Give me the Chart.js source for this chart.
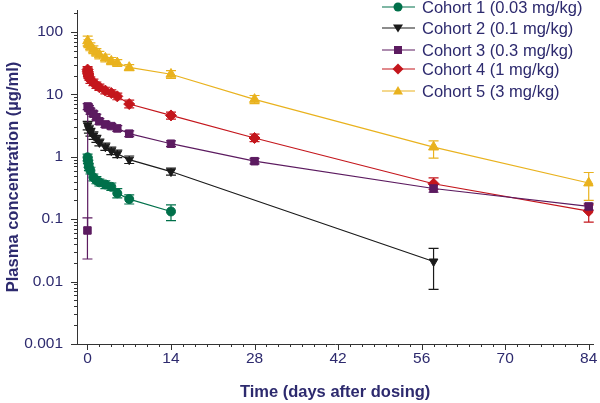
<!DOCTYPE html>
<html>
<head>
<meta charset="utf-8">
<script src="https://cdn.jsdelivr.net/npm/chart.js@4"></script>
<style>
body { margin: 0; background: #fff; }
#wrap { position: relative; width: 600px; height: 403px; }
.row { position: absolute; left: 382px; height: 20px; display: flex; align-items: center;
       font: 16.5px "Liberation Sans", Arial, sans-serif; color: #2d2a6e; white-space: nowrap; }
.row svg { margin-right: 7px; }
</style>
</head>
<body>
<div id="wrap">
  <canvas id="pk" width="600" height="403"></canvas>
  <div id="legend"></div>
</div>
<script>
/* DATA (days after dosing, mean conc µg/ml, error bar low/high) */
const cohortNames = ["Cohort 1 (0.03 mg/kg)", "Cohort 2 (0.1 mg/kg)", "Cohort 3 (0.3 mg/kg)",
                     "Cohort 4 (1 mg/kg)", "Cohort 5 (3 mg/kg)"];

const days1 = [0.02, 0.08, 0.17, 0.25, 0.5, 1, 1.5, 2, 3, 4, 5, 7, 14];
const conc1 = [0.98, 0.88, 0.78, 0.68, 0.60, 0.47, 0.42, 0.39, 0.36, 0.33, 0.26, 0.21, 0.133];
const low1  = [0.86, 0.78, 0.68, 0.60, 0.53, 0.41, 0.37, 0.34, 0.31, 0.29, 0.22, 0.175, 0.095];
const high1 = [1.10, 0.99, 0.88, 0.77, 0.68, 0.53, 0.48, 0.44, 0.41, 0.38, 0.31, 0.245, 0.17];

const days2 = [0.04, 0.25, 0.5, 1, 1.5, 2, 3, 4, 5, 7, 14, 58];
const conc2 = [3.2, 2.8, 2.5, 2.2, 1.95, 1.7, 1.45, 1.25, 1.12, 0.90, 0.58, 0.021];
const low2  = [2.7, 2.4, 2.15, 1.9, 1.7, 1.5, 1.27, 1.08, 0.97, 0.78, 0.51, 0.0075];
const high2 = [3.7, 3.2, 2.85, 2.5, 2.2, 1.92, 1.65, 1.43, 1.28, 1.03, 0.66, 0.034];

const days3 = [0, 0.04, 0.25, 0.5, 1, 1.5, 2, 3, 4, 5, 7, 14, 28, 58, 84];
const conc3 = [0.066, 6.4, 6.0, 5.4, 4.9, 4.3, 3.7, 3.3, 3.1, 2.85, 2.35, 1.62, 0.85, 0.31, 0.16];
const low3  = [0.023, 5.7, 5.4, 4.8, 4.4, 3.9, 3.3, 2.95, 2.8, 2.55, 2.1, 1.45, 0.77, 0.27, 0.14];
const high3 = [0.105, 7.1, 6.6, 6.0, 5.4, 4.8, 4.1, 3.7, 3.4, 3.15, 2.6, 1.8, 0.94, 0.36, 0.18];

const days4 = [0.02, 0.04, 0.08, 0.17, 0.25, 0.5, 1, 1.5, 2, 3, 4, 5, 7, 14, 28, 58, 84];
const conc4 = [25, 23.5, 22, 20.5, 19, 17, 15.5, 14, 13, 11.5, 10.5, 9.3, 7.0, 4.6, 2.0, 0.37, 0.135];
const low4  = [22, 21, 19.5, 18, 17, 15, 13.8, 12.5, 11.6, 10.2, 9.3, 8.2, 6.1, 4.0, 1.75, 0.30, 0.09];
const high4 = [28, 26.5, 25, 23, 21.5, 19, 17.5, 15.8, 14.6, 13, 11.8, 10.5, 8.1, 5.2, 2.3, 0.46, 0.17];

const days5 = [0.04, 0.17, 0.5, 1, 1.5, 2, 3, 4, 5, 7, 14, 28, 58, 84];
const conc5 = [72, 65, 58, 52, 47, 43, 38, 34, 32, 27, 21, 8.3, 1.43, 0.38];
const low5  = [60, 56, 50, 45, 41, 37, 33, 30, 28, 24, 18, 7.1, 0.95, 0.2];
const high5 = [86, 75, 67, 60, 54, 49, 44, 39, 36, 30, 24, 9.6, 1.8, 0.56];

const xTickLabels = [0, 14, 28, 42, 56, 70, 84];
const yTickLabels = ["0.001", "0.01", "0.1", "1", "10", "100"];

/* STYLE */
const colors = ["#00704a", "#1a1a1a", "#5c1b60", "#c4161c", "#e9b21e"];
const shapes = ["circle", "triangle", "rect", "rectRot", "triangle"];
const radii = [4.5, 5, 5.3, 5.5, 5.8];
const rots = [0, 180, 0, 0, 0];
const txt = "#2d2a6e";
const fam = '"Liberation Sans", Arial, sans-serif';

const series = [
    [days1, conc1, low1, high1], [days2, conc2, low2, high2], [days3, conc3, low3, high3],
    [days4, conc4, low4, high4], [days5, conc5, low5, high5]
];

const datasets = series.map(([d, c, lo, hi], i) => ({
    label: cohortNames[i],
    data: d.map((t, j) => ({ x: t, y: c[j] })),
    lo: lo, hi: hi,
    borderColor: colors[i],
    backgroundColor: colors[i],
    borderWidth: 1.2,
    pointStyle: shapes[i],
    pointRadius: radii[i],
    pointRotation: rots[i],
    pointBorderWidth: 1,
    tension: 0
}));

/* error bars drawn in data coordinates */
const errorBars = {
    id: "errorBars",
    beforeDatasetsDraw(chart) {
        const ctx = chart.ctx, y = chart.scales.y;
        chart.data.datasets.forEach((ds, i) => {
            const meta = chart.getDatasetMeta(i);
            ctx.save();
            ctx.strokeStyle = ds.borderColor;
            ctx.lineWidth = 1.2;
            ctx.beginPath();
            meta.data.forEach((pt, j) => {
                const top = y.getPixelForValue(ds.hi[j]);
                const bot = y.getPixelForValue(ds.lo[j]);
                ctx.moveTo(pt.x, top); ctx.lineTo(pt.x, bot);
                ctx.moveTo(pt.x - 5, top); ctx.lineTo(pt.x + 5, top);
                ctx.moveTo(pt.x - 5, bot); ctx.lineTo(pt.x + 5, bot);
            });
            ctx.stroke();
            ctx.restore();
        });
    }
};

/* outward tick marks, long at labelled values */
const axisTicks = {
    id: "axisTicks",
    afterDraw(chart) {
        const { ctx, chartArea, scales: { x, y } } = chart;
        ctx.save();
        ctx.strokeStyle = "#333";
        ctx.lineWidth = 1;
        ctx.beginPath();
        y.ticks.forEach(t => {
            const py = Math.round(y.getPixelForValue(t.value)) + 0.5;
            const lg = Math.log10(t.value);
            const len = Math.abs(lg - Math.round(lg)) < 1e-6 ? 6 : 3;
            ctx.moveTo(chartArea.left, py); ctx.lineTo(chartArea.left - len, py);
        });
        x.ticks.forEach(t => {
            const px = Math.round(x.getPixelForValue(t.value)) + 0.5;
            const len = xTickLabels.includes(t.value) ? 6 : 3;
            ctx.moveTo(px, chartArea.bottom); ctx.lineTo(px, chartArea.bottom + len);
        });
        ctx.stroke();
        ctx.restore();
    }
};

new Chart(document.getElementById("pk"), {
    type: "line",
    data: { datasets },
    options: {
        responsive: false,
        animation: false,
        layout: { padding: { top: 10, right: 3, left: 0, bottom: 0 } },
        plugins: { legend: { display: false }, tooltip: { enabled: false } },
        scales: {
            x: {
                type: "linear",
                min: -1.75,
                max: 84.75,
                afterBuildTicks: s => {
                    const t = [];
                    for (let v = 0; v <= 84; v += 2) t.push({ value: v });
                    s.ticks = t;
                },
                afterFit: s => { s.height = 59; s.paddingLeft = 0; s.paddingRight = 0; },
                grid: { display: false, drawTicks: false },
                border: { display: true, color: "#333", width: 1 },
                ticks: {
                    autoSkip: false, maxRotation: 0, padding: 5, color: txt,
                    font: { family: fam, size: 15.5 },
                    callback: v => xTickLabels.includes(v) ? String(v) : ""
                },
                title: {
                    display: true, text: "Time (days after dosing)", color: txt,
                    font: { family: fam, size: 16.5, weight: "bold" },
                    padding: { top: 0, bottom: 1 }
                }
            },
            y: {
                type: "logarithmic",
                min: 0.001,
                max: 225,
                afterBuildTicks: s => {
                    const t = [];
                    for (let e = -3; e <= 2; e++)
                        for (let m = 1; m <= 9; m++) {
                            const v = +(m * Math.pow(10, e)).toPrecision(3);
                            if (v <= 225) t.push({ value: v });
                        }
                    s.ticks = t;
                },
                afterFit: s => { s.width = 77; s.paddingTop = 0; s.paddingBottom = 0; },
                grid: { display: false, drawTicks: false },
                border: { display: true, color: "#333", width: 1 },
                ticks: {
                    autoSkip: false, padding: 14, color: txt,
                    font: { family: fam, size: 15.5 },
                    callback: v => {
                        const lg = Math.log10(v);
                        return Math.abs(lg - Math.round(lg)) < 1e-6 ? yTickLabels[Math.round(lg) + 3] : "";
                    }
                },
                title: {
                    display: true, text: "Plasma concentration (µg/ml)", color: txt,
                    font: { family: fam, size: 16.5, weight: "bold" },
                    padding: { top: 4, bottom: 0 }
                }
            }
        }
    },
    plugins: [errorBars, axisTicks]
});

/* LEGEND */
const rowCenters = [7, 28, 50, 69, 91];
const markerSvg = [
    c => `<circle cx="16" cy="7" r="4.5" fill="${c}"/>`,
    c => `<polygon points="11,3.5 21,3.5 16,11.5" fill="${c}"/>`,
    c => `<rect x="12" y="3" width="8" height="8" fill="${c}"/>`,
    c => `<polygon points="16,1.5 21.5,7 16,12.5 10.5,7" fill="${c}"/>`,
    c => `<polygon points="16,2 21,10.5 11,10.5" fill="${c}"/>`
];
const legend = document.getElementById("legend");
cohortNames.forEach((name, i) => {
    const row = document.createElement("div");
    row.className = "row";
    row.style.top = (rowCenters[i] - 10) + "px";
    row.innerHTML = `<svg width="33" height="14"><line x1="0" y1="7" x2="33" y2="7" stroke="${colors[i]}" stroke-width="1.2"/>${markerSvg[i](colors[i])}</svg><span>${name}</span>`;
    legend.appendChild(row);
});
</script>
</body>
</html>
